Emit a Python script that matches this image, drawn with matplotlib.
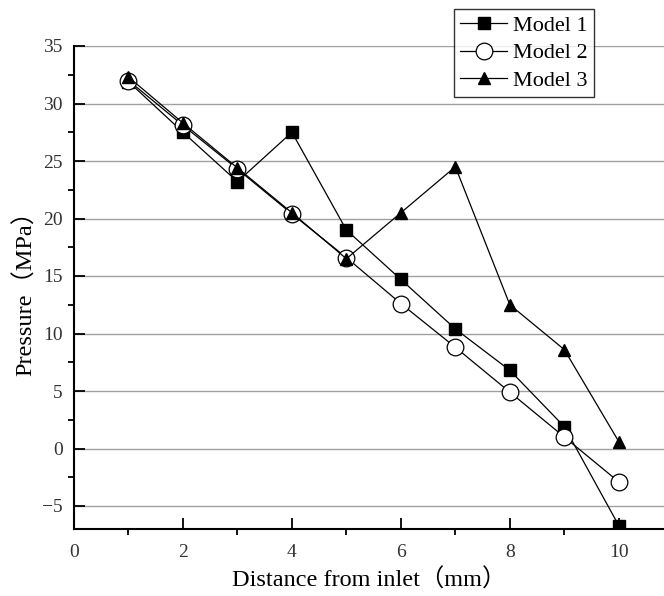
import matplotlib
matplotlib.use("Agg")
import matplotlib.pyplot as plt
from matplotlib.ticker import MultipleLocator

# Pressure along the channel for three models
distance = [1, 2, 3, 4, 5, 6, 7, 8, 9, 10]
model1 = [31.9, 27.5, 23.2, 27.5, 19.0, 14.7, 10.4, 6.8, 1.9, -6.7]
model2 = [32.0, 28.1, 24.3, 20.4, 16.6, 12.6, 8.8, 4.9, 1.0, -2.9]
model3 = [32.3, 28.3, 24.4, 20.5, 16.5, 20.5, 24.5, 12.5, 8.6, 0.6]

x_label = "Distance from inlet（mm）"
y_label = "Pressure（MPa）"
series_names = ["Model 1", "Model 2", "Model 3"]

serif = ["Liberation Serif", "Noto Sans CJK SC", "DejaVu Serif"]
plt.rcParams["font.family"] = serif

fig = plt.figure(figsize=(6.64, 5.96), dpi=100)
ax = fig.add_axes([74 / 664, 1 - 529 / 596, 1 - 74 / 664, (529 - 46) / 596])

ax.plot(distance, model1, color="black", lw=0.9, marker="s", ms=8,
        mfc="black", mec="black", label=series_names[0], zorder=3)
ax.plot(distance, model2, color="black", lw=0.9, marker="o", ms=12,
        mfc="white", mec="black", mew=0.9, label=series_names[1], zorder=4)
ax.plot(distance, model3, color="black", lw=0.9, marker="^", ms=9,
        mfc="black", mec="black", label=series_names[2], zorder=5)

ax.set_xlim(0, 10.83)
ax.set_ylim(-7, 35)
ax.xaxis.set_major_locator(MultipleLocator(2))
ax.xaxis.set_minor_locator(MultipleLocator(1))
ax.yaxis.set_major_locator(MultipleLocator(5))
ax.yaxis.set_minor_locator(MultipleLocator(2.5))

ax.tick_params(which="major", direction="in", length=8, width=1.3,
               labelsize=14, colors="black")
ax.tick_params(which="minor", direction="out", length=4, width=1.3)
ax.tick_params(axis="x", which="major", pad=11)
ax.tick_params(axis="y", which="major", pad=8)
for lab in ax.get_xticklabels() + ax.get_yticklabels():
    lab.set_color("#333333")

ax.grid(axis="y", which="major", color="#a0a0a0", lw=1.0, zorder=0)
ax.set_axisbelow(True)

for side in ("top", "right"):
    ax.spines[side].set_visible(False)
for side in ("left", "bottom"):
    ax.spines[side].set_linewidth(1.5)
ax.spines["left"].set_bounds(-7, 35)

ax.set_xlabel(x_label, fontsize=17.5, labelpad=5)
ax.set_ylabel(y_label, fontsize=17.5, labelpad=4)

leg = fig.legend(loc="upper right", bbox_to_anchor=(594 / 664, 1 - 9 / 596),
                 fontsize=16, frameon=True, fancybox=False, edgecolor="black",
                 handlelength=2.1, handletextpad=0.25, borderpad=0.3,
                 labelspacing=0.3, borderaxespad=0)
leg.get_frame().set_linewidth(1.0)

fig.savefig("out.png", dpi=100)
